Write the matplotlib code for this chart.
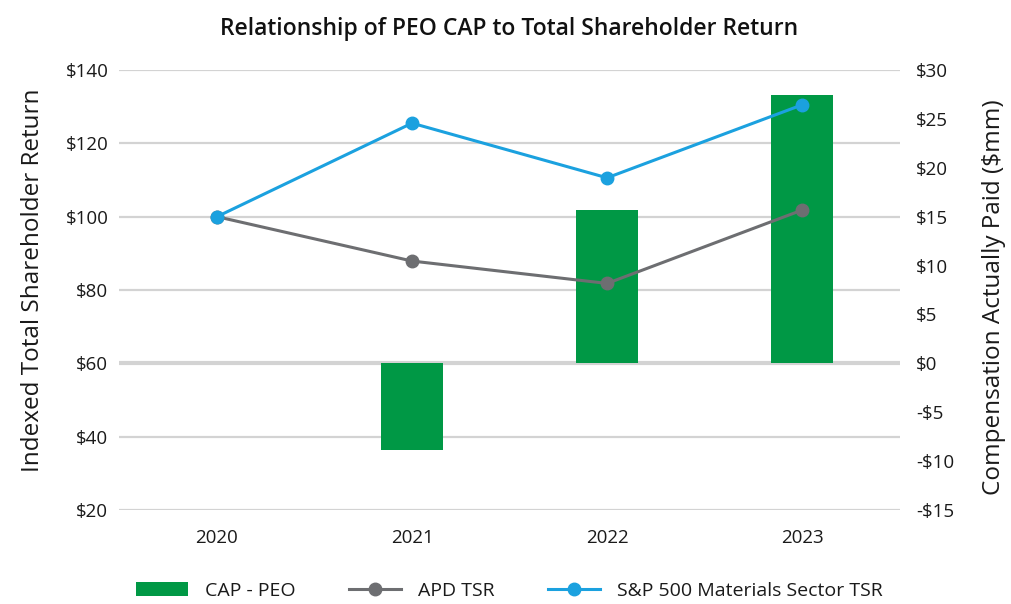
import matplotlib
matplotlib.use("Agg")
import matplotlib.pyplot as plt
from matplotlib.ticker import FuncFormatter
from matplotlib.lines import Line2D
from matplotlib.patches import Patch

years = ["2020", "2021", "2022", "2023"]
cap_peo = [0.0, -8.9, 15.7, 27.4]          # $mm, right axis
apd_tsr = [100.0, 87.9, 81.8, 101.8]       # indexed, left axis
sp_materials_tsr = [100.0, 125.5, 110.6, 130.5]

GREEN = "#009845"
GREY = "#6D6E71"
BLUE = "#1BA1DF"
GRID = "#D3D3D3"
TEXT = "#1a1a1a"

plt.rcParams["font.family"] = ["Open Sans", "DejaVu Sans"]

fig = plt.figure(figsize=(10.12, 6.04), dpi=100)
ax = fig.add_axes([0.118, 0.1556, 0.771, 0.7285])
ax2 = ax.twinx()

x = list(range(len(years)))

# bars on the compensation axis
ax2.bar(x, cap_peo, width=0.32, color=GREEN, zorder=2)
ax2.set_ylim(-15, 30)
ax2.set_yticks(range(-15, 31, 5))
ax2.yaxis.set_major_formatter(
    FuncFormatter(lambda v, p: f"-${abs(int(v))}" if v < 0 else f"${int(v)}"))
ax2.set_xlim(-0.5, 3.5)

# horizontal gridlines at the indexed-axis ticks, the zero line a little heavier
for v in range(20, 141, 20):
    lw = 3.0 if v == 60 else 1.6
    ax2.plot([-0.5, 3.5], [(v - 20) / 120 * 45 - 15] * 2, color=GRID, lw=lw,
             zorder=1, solid_capstyle="butt")

# TSR lines on the indexed axis (drawn above the bars)
ax.set_zorder(ax2.get_zorder() + 1)
ax.patch.set_visible(False)
ax.plot(x, apd_tsr, color=GREY, lw=2.2, marker="o", ms=9, zorder=4)
ax.plot(x, sp_materials_tsr, color=BLUE, lw=2.2, marker="o", ms=9, zorder=4)
ax.set_ylim(20, 140)
ax.set_yticks(range(20, 141, 20))
ax.yaxis.set_major_formatter(FuncFormatter(lambda v, p: f"${int(v)}"))
ax.set_xlim(-0.5, 3.5)
ax.set_xticks(x)
ax.set_xticklabels(years)

for a in (ax, ax2):
    for s in a.spines.values():
        s.set_visible(False)
    a.tick_params(length=0, labelsize=13.5, colors=TEXT)
ax.tick_params(axis="x", pad=14)
ax.tick_params(axis="y", pad=8)
ax2.tick_params(axis="y", pad=12)

ax.set_ylabel("Indexed Total Shareholder Return", fontsize=17.5, color=TEXT)
ax2.set_ylabel("Compensation Actually Paid ($mm)", fontsize=17.5, color=TEXT)
ax.yaxis.set_label_coords(-0.096, 0.523)
ax2.yaxis.set_label_coords(1.106, 0.484)

fig.suptitle("Relationship of PEO CAP to Total Shareholder Return", fontsize=16.5,
             fontweight="semibold", y=0.972, x=0.503, color="#111111")

handles = [
    Patch(facecolor=GREEN, edgecolor="none"),
    Line2D([0], [0], color=GREY, lw=2.2, marker="o", ms=9),
    Line2D([0], [0], color=BLUE, lw=2.2, marker="o", ms=9),
]
labels = ["CAP - PEO", "APD TSR", "S&P 500 Materials Sector TSR"]
fig.legend(handles, labels, loc="lower center", bbox_to_anchor=(0.503, -0.022), ncol=3,
           frameon=False, fontsize=14, handlelength=2.7, handleheight=0.8,
           columnspacing=2.75, handletextpad=0.85, labelcolor=TEXT)

fig.savefig("out.png", dpi=100)
